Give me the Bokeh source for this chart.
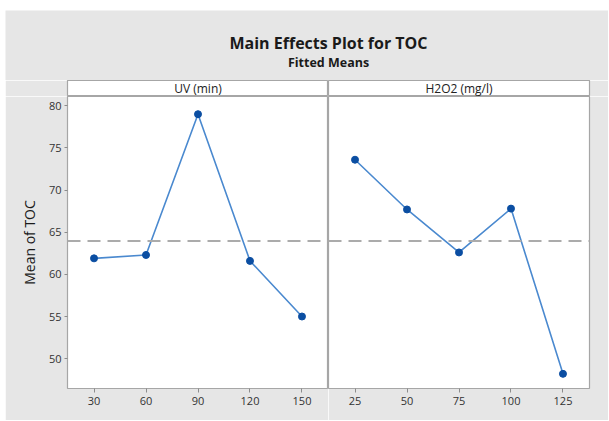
import numpy as np
from bokeh.plotting import figure
from bokeh.layouts import column, row, Spacer
from bokeh.models import FixedTicker, Span, Range1d, ColumnDataSource
from bokeh.core.properties import value
from bokeh.embed import file_html
from bokeh.resources import INLINE

# ---- data ----
uv_levels = [30, 60, 90, 120, 150]
uv_means = [61.9, 62.3, 79.0, 61.6, 55.0]
h2o2_levels = [25, 50, 75, 100, 125]
h2o2_means = [73.6, 67.7, 62.6, 67.8, 48.2]
y_ticks = [50, 55, 60, 65, 70, 75, 80]
panel_titles = ["UV (min)", "H2O2 (mg/l)"]
chart_title = "Main Effects Plot for TOC"
chart_subtitle = "Fitted Means"
y_label = "Mean of TOC"

overall_mean = float(np.mean(uv_means + h2o2_means))

# ---- style ----
GRAY_BG = "#e6e6e6"
FRAME = "#a6a6a6"
LINE_C = "#4a89cf"
MARK_C = "#0b4ea2"
TXT = "#333333"
FONT = "Open Sans"

LEFT_W = 323
RIGHT_W = 280
TOTAL_W = LEFT_W + RIGHT_W
TITLE_H = 70
HDR_H = 16
MAIN_H = 324
LEFT_PAD = 62
RIGHT_PAD = 19
BOTTOM_PAD = 32

y_range = Range1d(46.46, 81.1)


def pad_range(levels, frac=0.51):
    step = levels[1] - levels[0]
    return Range1d(levels[0] - frac * step, levels[-1] + frac * step)


# title figure
tfig = figure(width=TOTAL_W, height=TITLE_H, x_range=(0, TOTAL_W), y_range=(0, TITLE_H),
              output_backend="svg", toolbar_location=None,
              x_axis_location=None, y_axis_location=None, min_border=0)
tfig.outline_line_color = None
tfig.background_fill_color = GRAY_BG
tfig.border_fill_color = GRAY_BG
tfig.grid.visible = False
cx = (LEFT_PAD + TOTAL_W - RIGHT_PAD) / 2
tfig.text(x=[cx], y=[38], text=[chart_title], text_align="center", text_baseline="middle",
          text_font=value(FONT), text_font_size="16px", text_font_style="bold", text_color="#1a1a1a")
tfig.text(x=[cx], y=[18], text=[chart_subtitle], text_align="center", text_baseline="middle",
          text_font=value(FONT), text_font_size="12.5px", text_font_style="bold", text_color="#1a1a1a")


def header(width, left, right, label):
    h = figure(width=width, height=HDR_H, x_range=(0, 1), y_range=(0, 1),
               output_backend="svg", toolbar_location=None,
               x_axis_location=None, y_axis_location=None,
               min_border_left=left, min_border_right=right, min_border_top=0, min_border_bottom=0)
    h.background_fill_color = "white"
    h.border_fill_color = GRAY_BG
    h.outline_line_color = FRAME
    h.outline_line_width = 1.2
    h.grid.visible = False
    h.text(x=[0.5], y=[0.5], text=[label], text_align="center", text_baseline="middle",
           text_font=value(FONT), text_font_size="12px", text_color="#222222")
    return h


def panel(width, left, right, levels, means, show_y):
    p = figure(width=width, height=MAIN_H, x_range=pad_range(levels), y_range=y_range,
               output_backend="svg", toolbar_location=None,
               y_axis_location="left" if show_y else None,
               min_border_left=left, min_border_right=right, min_border_top=0,
               min_border_bottom=BOTTOM_PAD)
    p.background_fill_color = "white"
    p.border_fill_color = GRAY_BG
    p.outline_line_color = FRAME
    p.outline_line_width = 1.2
    p.grid.visible = False

    p.xaxis.ticker = FixedTicker(ticks=levels)
    p.xaxis.axis_line_color = None
    p.xaxis.major_tick_line_color = "#8c8c8c"
    p.xaxis.major_tick_out = 4
    p.xaxis.major_tick_in = 0
    p.xaxis.minor_tick_line_color = None
    p.xaxis.major_label_standoff = 4
    p.xaxis.major_label_text_font = FONT
    p.xaxis.major_label_text_font_size = "11px"
    p.xaxis.major_label_text_color = TXT

    if show_y:
        p.yaxis.ticker = FixedTicker(ticks=y_ticks)
        p.yaxis.axis_line_color = None
        p.yaxis.major_tick_line_color = "#8c8c8c"
        p.yaxis.major_tick_out = 3
        p.yaxis.major_tick_in = 0
        p.yaxis.minor_tick_line_color = None
        p.yaxis.major_label_standoff = 3
        p.yaxis.major_label_text_font = FONT
        p.yaxis.major_label_text_font_size = "11px"
        p.yaxis.major_label_text_color = TXT
        p.yaxis.axis_label = y_label
        p.yaxis.axis_label_text_font = FONT
        p.yaxis.axis_label_text_font_size = "14px"
        p.yaxis.axis_label_text_font_style = "normal"
        p.yaxis.axis_label_text_color = "#1a1a1a"
        p.yaxis.axis_label_standoff = 7

    p.add_layout(Span(location=overall_mean, dimension="width", line_color="#ababab",
                      line_width=2, line_dash="13 7"))
    src = ColumnDataSource(data=dict(x=levels, y=means))
    p.line("x", "y", source=src, line_color=LINE_C, line_width=1.6)
    p.scatter("x", "y", source=src, size=7, fill_color=MARK_C, line_color=MARK_C)
    return p


h1 = header(LEFT_W, LEFT_PAD, 0, panel_titles[0])
h2 = header(RIGHT_W, 0, RIGHT_PAD, panel_titles[1])
p1 = panel(LEFT_W, LEFT_PAD, 0, uv_levels, uv_means, True)
p2 = panel(RIGHT_W, 0, RIGHT_PAD, h2o2_levels, h2o2_means, False)

content = column(tfig, row(column(h1, p1), column(h2, p2)))
layout = column(Spacer(height=10), row(Spacer(width=5), content))

open("out.html", "w").write(file_html(layout, INLINE))
